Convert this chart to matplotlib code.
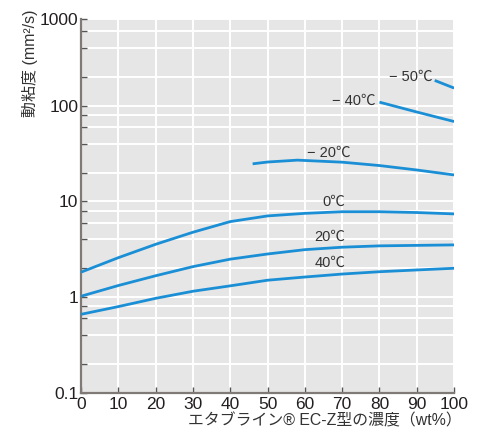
import numpy as np
import matplotlib.pyplot as plt
from matplotlib.ticker import FixedLocator, LogLocator, NullFormatter

plt.rcParams['font.family'] = ['Liberation Sans', 'Noto Sans CJK JP', 'DejaVu Sans']

# concentration (wt%) vs kinematic viscosity (mm2/s)
conc = [0, 10, 20, 30, 40, 50, 60, 70, 80, 90, 100]
visc_0 = [1.82, 2.58, 3.56, 4.76, 6.15, 7.05, 7.5, 7.8, 7.8, 7.65, 7.4]
visc_20 = [1.02, 1.32, 1.67, 2.08, 2.49, 2.82, 3.13, 3.32, 3.43, 3.47, 3.51]
visc_40 = [0.66, 0.795, 0.97, 1.15, 1.31, 1.50, 1.62, 1.74, 1.84, 1.92, 2.0]

conc_m20 = [46, 50, 58, 70, 80, 90, 100]
visc_m20 = [24.7, 25.8, 27.0, 25.7, 23.7, 21.3, 18.9]

conc_m40 = [80, 90, 100]
visc_m40 = [109, 86, 68.4]

conc_m50 = [94.8, 100]
visc_m50 = [184, 153]

curve_labels = ['− 50℃', '− 40℃', '− 20℃', '0℃', '20℃', '40℃']
label_x = [88.5, 73.1, 66.4, 67.7, 66.8, 66.8]
label_y = [199, 113, 32.4, 9.8, 4.28, 2.29]

# axis stops at 800; the top tick carries the label "1000"
y_ticks = [0.1, 1, 10, 100, 800]
y_ticklabels = ['0.1', '1', '10', '100', '1000']

line_col = '#1b8fd6'
text_col = '#333333'

fig = plt.figure(figsize=(4.78, 4.30), dpi=100)
ax = fig.add_axes([0.1695, 0.0867, 0.7805, 0.8683])
ax.set_facecolor('#e6e6e6')

for xs, ys in [(conc, visc_0), (conc, visc_20), (conc, visc_40),
               (conc_m20, visc_m20), (conc_m40, visc_m40), (conc_m50, visc_m50)]:
    ax.plot(xs, ys, color=line_col, lw=2.0, solid_capstyle='butt', zorder=3)

for t, x, y in zip(curve_labels, label_x, label_y):
    ax.text(x, y, t, ha='center', va='center', fontsize=10.5, color=text_col)

ax.set_yscale('log')
ax.set_xlim(0, 100)
ax.set_ylim(0.1, 800)
ax.set_xticks(np.arange(0, 101, 10))
ax.yaxis.set_major_locator(FixedLocator(y_ticks))
ax.set_yticklabels(y_ticklabels)
ax.yaxis.set_minor_locator(LogLocator(base=10, subs=[2, 4, 6, 8]))
ax.yaxis.set_minor_formatter(NullFormatter())

ax.grid(True, which='both', color='white', lw=1.4, zorder=1)
ax.set_axisbelow(True)

for s in ['top', 'right']:
    ax.spines[s].set_visible(False)
for s in ['left', 'bottom']:
    ax.spines[s].set_color('#7f7a75')
    ax.spines[s].set_linewidth(1.6)

ax.tick_params(which='both', direction='in', length=4, width=1, color='#555555',
               labelsize=12.5, labelcolor='#231f20')
ax.tick_params(axis='y', pad=2)
ax.tick_params(axis='x', pad=3)

fig.text(30 / 478, 1 - 63 / 430, '動粘度 (mm²/s)', rotation=90, ha='center', va='center',
         fontsize=11.5, color=text_col)
fig.text(462 / 478, 1 - 421 / 430, 'エタブライン® EC-Z型の濃度（wt%）', ha='right', va='center',
         fontsize=11.4, color=text_col)

fig.savefig('out.png', dpi=100)
